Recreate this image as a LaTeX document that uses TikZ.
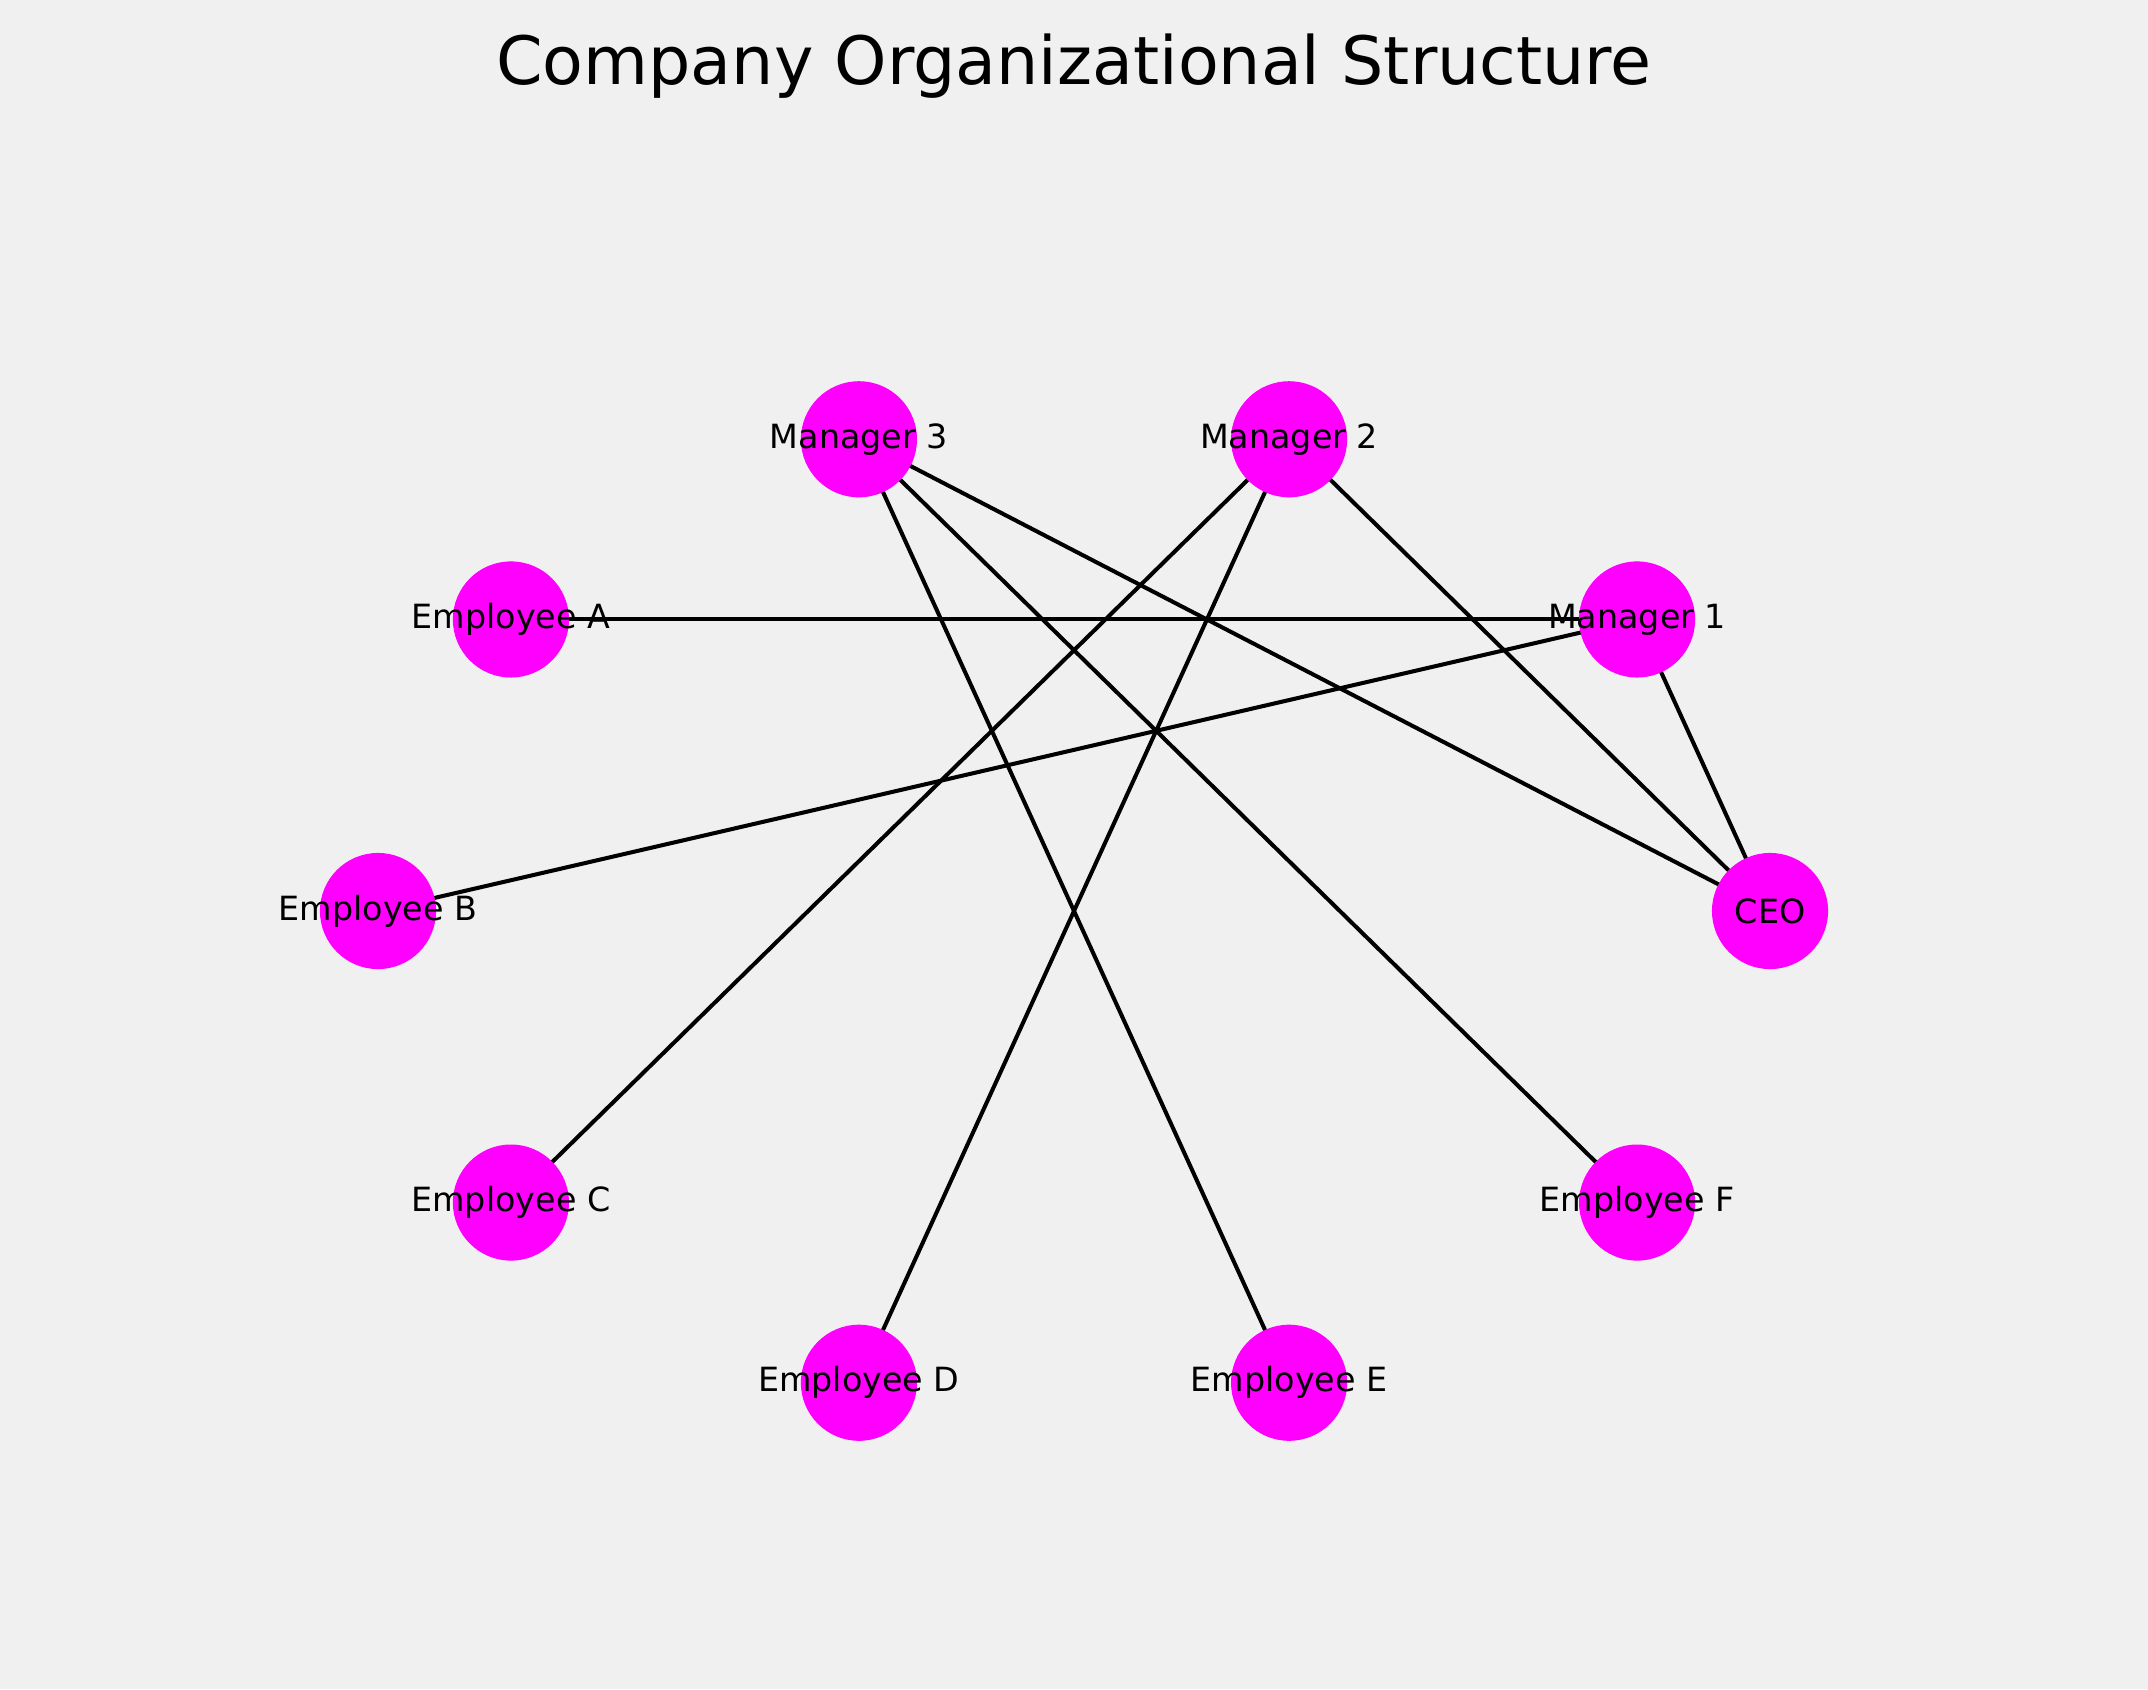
\documentclass[tikz,border=0pt]{standalone}
\usepackage{fontspec}
\setmainfont{DejaVu Sans}
\usepackage{tikz}
\usepackage{xcolor}
\definecolor{bg-gray}{HTML}{F0F0F0}
\definecolor{node-magenta}{HTML}{FF00FF}
\tikzset{
    org-node/.style = {circle, fill=node-magenta, draw=node-magenta, minimum size=41.4pt, inner sep=0pt},
    org-label/.style = {font=\fontsize{12}{14}\selectfont, text=black},
    org-edge/.style = {draw=black, line width=1.45pt},
    org-title/.style = {font=\fontsize{24}{29}\selectfont, anchor=base},
}

\begin{document}
\begin{tikzpicture}[x=0.36pt, y=-0.36pt]
\fill[bg-gray] (0,0) rectangle (2148,1689);
\useasboundingbox (0,0) rectangle (2148,1689);
\node[org-title] (title) at (1074,84) {Company Organizational Structure};
% nodes on an ellipse, counter-clockwise from the right
\foreach \name/\a in {ceo/0, mgr1/36, mgr2/72, mgr3/108, empA/144, empB/180, empC/216, empD/252, empE/288, empF/324}
    \node[org-node] (\name) at ({1074+696*cos(\a)},{911-496*sin(\a)}) {};
% edges
\foreach \s/\t in {ceo/mgr1, ceo/mgr2, ceo/mgr3, mgr1/empA, mgr1/empB, mgr2/empC, mgr2/empD, mgr3/empE, mgr3/empF}
    \draw[org-edge] (\s) -- (\t);
% labels
\foreach \name/\txt in {ceo/CEO, mgr1/Manager 1, mgr2/Manager 2, mgr3/Manager 3, empA/Employee A, empB/Employee B, empC/Employee C, empD/Employee D, empE/Employee E, empF/Employee F}
    \node[org-label] at (\name) {\txt};
\end{tikzpicture}
\end{document}
